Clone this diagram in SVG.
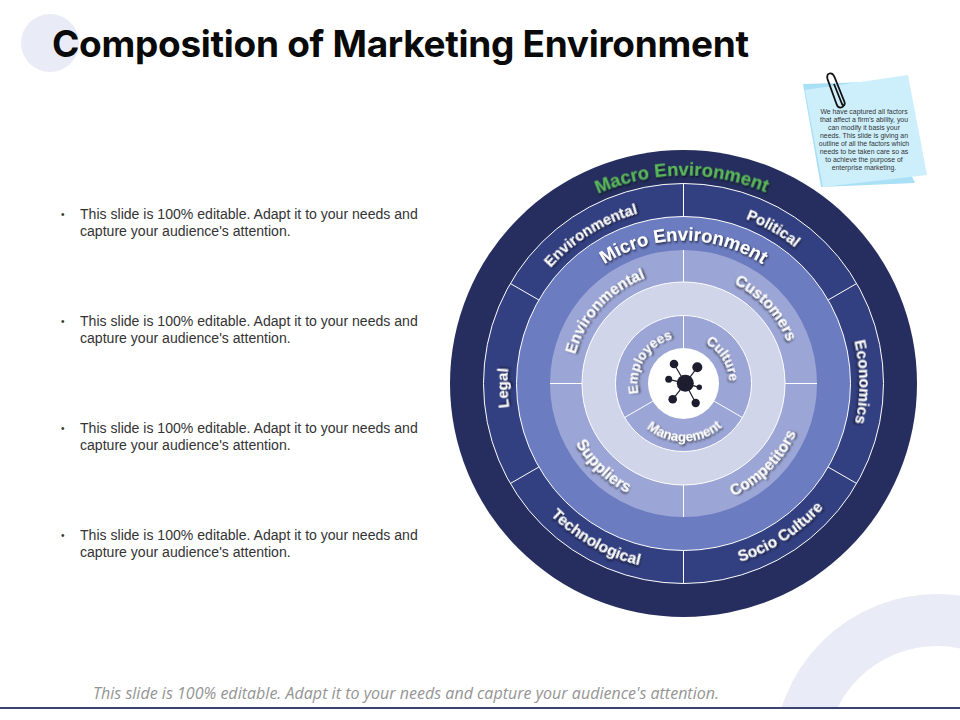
<svg xmlns="http://www.w3.org/2000/svg" width="960" height="720" viewBox="0 0 960 720">
<style>
.t{font-family:"Liberation Sans",Arial,sans-serif;font-weight:700;fill:#fff;text-anchor:middle;filter:url(#s)}
.l{fill:none;stroke:#fff;stroke-width:1}
.b{font-family:"Liberation Sans",Arial,sans-serif;font-size:14.07px;fill:#333}
.o{font-family:"Liberation Sans",Arial,sans-serif;font-size:10px;fill:#333}
.n{font-family:"Liberation Sans",Arial,sans-serif;font-size:6.9px;fill:#333;text-anchor:middle}
.d{fill:#1d1d2f}
</style>
<defs>
<filter id="s" x="-20%" y="-20%" width="140%" height="140%"><feDropShadow dx="1" dy="1.5" stdDeviation="0.9" flood-color="#000" flood-opacity="0.75"/></filter>
<clipPath id="c"><rect x="0" y="0" width="960" height="707"/></clipPath>
<path id="macro" d="M475.500 383.500A208 208 0 0 1 891.500 383.500"/>
<path id="t176" d="M507.500 383.500A176 176 0 0 1 859.500 383.500"/>
<path id="b187" d="M496.500 383.500A187 187 0 0 0 870.500 383.500"/>
<path id="micro" d="M540.500 383.500A143 143 0 0 1 826.500 383.500"/>
<path id="t112" d="M571.500 383.500A112 112 0 0 1 795.500 383.500"/>
<path id="b123" d="M560.500 383.500A123 123 0 0 0 806.500 383.500"/>
<path id="t46" d="M637.500 383.500A46 46 0 0 1 729.500 383.500"/>
<path id="b58" d="M625.500 383.500A58 58 0 0 0 741.500 383.500"/>
</defs>
<g id="background">
<circle cx="50" cy="43" r="29" fill="#e9ebf6"/>
<circle cx="937" cy="757" r="137" fill="none" stroke="#e9ebf6" stroke-width="52" clip-path="url(#c)"/>
<rect x="0" y="707" width="960" height="2" fill="#3a4270"/>
</g>
<text id="title" x="52" y="57" font-family="Inter,sans-serif" font-weight="700" font-size="37" fill="#0a0a0a" textLength="697" lengthAdjust="spacing">Composition of Marketing Environment</text>
<g id="bullets">
<g id="bullet-1"><text class="o" x="61" y="218">•</text><text class="b" x="80" y="219">This slide is 100% editable. Adapt it to your needs and</text><text class="b" x="80" y="236">capture your audience's attention.</text></g>
<g id="bullet-2"><text class="o" x="61" y="325">•</text><text class="b" x="80" y="326">This slide is 100% editable. Adapt it to your needs and</text><text class="b" x="80" y="343">capture your audience's attention.</text></g>
<g id="bullet-3"><text class="o" x="61" y="432">•</text><text class="b" x="80" y="433">This slide is 100% editable. Adapt it to your needs and</text><text class="b" x="80" y="450">capture your audience's attention.</text></g>
<g id="bullet-4"><text class="o" x="61" y="539">•</text><text class="b" x="80" y="540">This slide is 100% editable. Adapt it to your needs and</text><text class="b" x="80" y="557">capture your audience's attention.</text></g>
</g>
<text id="footer" x="93" y="699" font-family="'Open Sans',sans-serif" font-style="italic" font-size="16" fill="#949494" textLength="626">This slide is 100% editable. Adapt it to your needs and capture your audience's attention.</text>
<g id="rings">
<circle cx="683.500" cy="383.500" r="233.500" fill="#252e5e"/>
<circle cx="683.500" cy="383.500" r="200" fill="#323f80"/>
<circle cx="683.500" cy="383.500" r="167" fill="#6c7cc0"/>
<circle cx="683.500" cy="383.500" r="133.500" fill="#9ca6d6"/>
<circle cx="683.500" cy="383.500" r="101.500" fill="#d0d5ea"/>
<circle cx="683.500" cy="383.500" r="68" fill="#9ca6d6"/>
<circle cx="683.500" cy="383.500" r="35.500" fill="#fff"/>
<circle class="l" cx="683.500" cy="383.500" r="200"/>
<circle class="l" cx="683.500" cy="383.500" r="167"/>
<circle class="l" cx="683.500" cy="383.500" r="101.500"/>
<circle class="l" cx="683.500" cy="383.500" r="68"/>
</g>
<g id="connectors">
<path class="l" d="M683.500 183.500V216.500M683.500 550.500V583.500M828.100 300L856.700 283.500M828.100 467L856.700 483.500M538.900 467L510.300 483.500M538.900 300L510.300 283.500"/>
<path class="l" d="M683.500 250V282M683.500 485V517M550 383.500H582M785 383.500H817"/>
<path class="l" d="M683.500 315.500V348M714.200 401.200L742.400 417.500M652.800 401.200L624.600 417.500"/>
</g>
<g id="macro-label"><text class="t" font-size="18.5" style="fill:#5cb85c" transform="rotate(-0.5 683.500 383.500)"><textPath href="#macro" startOffset="50%">Macro Environment</textPath></text></g>
<g id="macro-environmental"><text class="t" font-size="15" transform="rotate(-32 683.500 383.500)"><textPath href="#t176" startOffset="50%">Environmental</textPath></text></g>
<g id="macro-political"><text class="t" font-size="15" transform="rotate(30 683.500 383.500)"><textPath href="#t176" startOffset="50%">Political</textPath></text></g>
<g id="macro-economics"><text class="t" font-size="15.500" transform="rotate(89.500 683.500 383.500)"><textPath href="#t176" startOffset="50%">Economics</textPath></text></g>
<g id="macro-socio"><text class="t" font-size="15.500" transform="rotate(-33 683.500 383.500)"><textPath href="#b187" startOffset="50%">Socio Culture</textPath></text></g>
<g id="macro-technological"><text class="t" font-size="15.500" transform="rotate(29.500 683.500 383.500)"><textPath href="#b187" startOffset="50%">Technological</textPath></text></g>
<g id="macro-legal"><text class="t" font-size="15" transform="rotate(-91.500 683.500 383.500)"><textPath href="#t176" startOffset="50%">Legal</textPath></text></g>
<g id="micro-label"><text class="t" font-size="18.500"><textPath href="#micro" startOffset="50%">Micro Environment</textPath></text></g>
<g id="micro-environmental"><text class="t" font-size="15.500" transform="rotate(-47.500 683.500 383.500)"><textPath href="#t112" startOffset="50%">Environmental</textPath></text></g>
<g id="micro-customers"><text class="t" font-size="15.500" transform="rotate(47.500 683.500 383.500)"><textPath href="#t112" startOffset="50%">Customers</textPath></text></g>
<g id="micro-competitors"><text class="t" font-size="15.500" transform="rotate(-45 683.500 383.500)"><textPath href="#b123" startOffset="50%">Competitors</textPath></text></g>
<g id="micro-suppliers"><text class="t" font-size="16" transform="rotate(44 683.500 383.500)"><textPath href="#b123" startOffset="50%">Suppliers</textPath></text></g>
<g id="inner-employees"><text class="t" font-size="13.500" transform="rotate(-58 683.500 383.500)"><textPath href="#t46" startOffset="50%">Employees</textPath></text></g>
<g id="inner-culture"><text class="t" font-size="13.500" transform="rotate(58 683.500 383.500)"><textPath href="#t46" startOffset="50%">Culture</textPath></text></g>
<g id="inner-management"><text class="t" font-size="13.500" transform="rotate(-1 683.500 383.500)"><textPath href="#b58" startOffset="50%">Management</textPath></text></g>
<g id="hub-icon">
<path d="M685.300 383.300L674 364M685.300 383.300L697.300 367.300M685.300 383.300L668.700 379.300M685.300 383.300L699.300 387.300M685.300 383.300L672.700 399.300M685.300 383.300L695.700 403" fill="none" stroke="#1d1d2f" stroke-width="1.200"/>
<circle class="d" cx="685.300" cy="383.300" r="8.500"/>
<circle class="d" cx="674" cy="364" r="4.300"/>
<circle class="d" cx="697.300" cy="367.300" r="5"/>
<circle class="d" cx="668.700" cy="379.300" r="3.500"/>
<circle class="d" cx="699.300" cy="387.300" r="2.700"/>
<circle class="d" cx="672.700" cy="399.300" r="4.300"/>
<circle class="d" cx="695.700" cy="403" r="4.200"/>
</g>
<g id="sticky-note">
<polygon points="803,84 868,82 915,183 821,187" fill="#a9e0f6"/>
<polygon points="805,90 908,75 927,175 823,187" fill="#cdeffb"/>
<path d="M834 84L842 104C843.500 107 845.500 105 844.500 102L834.500 77C832 71 826 73 827.500 79L836.500 104C838 109 843 109 845 103" fill="none" stroke="#111" stroke-width="1.800"/>
<text class="n" x="864" y="114">We have captured all factors</text>
<text class="n" x="864" y="122">that affect a firm's ability, you</text>
<text class="n" x="864" y="130">can modify it basis your</text>
<text class="n" x="864" y="138">needs. This slide is giving an</text>
<text class="n" x="864" y="146">outline of all the factors which</text>
<text class="n" x="864" y="154">needs to be taken care so as</text>
<text class="n" x="864" y="162">to achieve the purpose of</text>
<text class="n" x="864" y="170">enterprise marketing.</text>
</g>
</svg>
